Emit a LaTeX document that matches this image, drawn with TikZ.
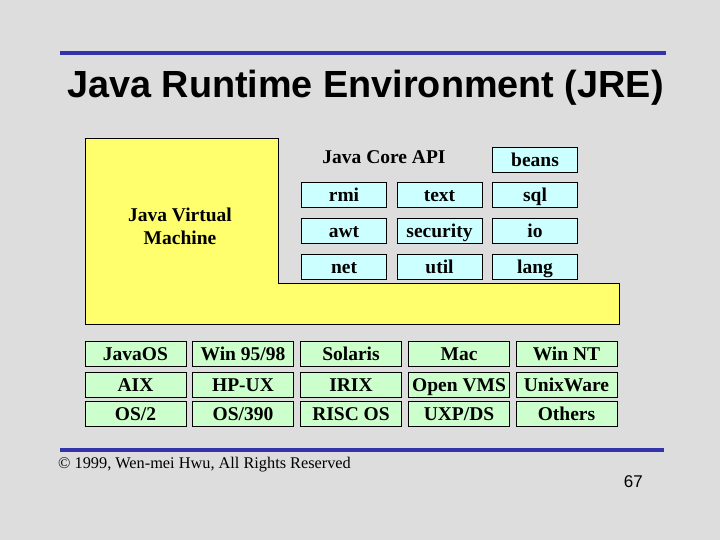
\documentclass[tikz,border=0pt]{standalone}
\usepackage{fontspec}
\setmainfont{Liberation Serif}
\newfontfamily\arialfont{Liberation Sans}
\usepackage{xcolor}
\usepackage{tikz}
\definecolor{slidegray}{HTML}{DDDDDD}
\definecolor{rulebl}{HTML}{3333AA}
\definecolor{jvmyel}{HTML}{FFFF6E}
\definecolor{apicyan}{HTML}{CCFFFF}
\definecolor{osgreen}{HTML}{CCFFCC}

\begin{document}
\begin{tikzpicture}[x=1pt, y=-1pt,
    lbl/.style={font=\bfseries\fontsize{19.5}{23}\selectfont},
    apibox/.style={lbl, draw, line width=0.9pt, fill=apicyan, minimum width=85pt, minimum height=25pt, inner sep=0pt, text height=15pt, text depth=2pt},
    osbox/.style={lbl, draw, line width=0.9pt, fill=osgreen, minimum width=101pt, minimum height=25pt, inner sep=0pt, text height=15pt, text depth=2pt}]
            \useasboundingbox[fill=slidegray] (0,0) rectangle (720,540);
            % title and rules
            \draw[line width=4pt, rulebl] (60,53) -- (666,53);
            \node[anchor=base west, inner sep=0pt, font=\arialfont\bfseries\fontsize{37.8}{38}\selectfont] (title) at (67,98) {Java Runtime Environment (JRE)};
            \draw[line width=4pt, rulebl] (60,450) -- (664,450);
            % virtual machine
            \draw[line width=0.9pt, fill=jvmyel] (85,138) -- (278,138) -- (278,283) -- (619,283) -- (619,324) -- (85,324) -- cycle;
            \node[lbl, align=center] (jvm) at (180,226) {Java Virtual\\Machine};
            % core API
            \node[lbl] (coreapi) at (384,157) {Java Core API};
            \node[apibox] (beans) at (535,160) {beans};
            \node[apibox] (rmi) at (344,195) {rmi};
            \node[apibox] (text) at (439.5,195) {text};
            \node[apibox] (sql) at (535,195) {sql};
            \node[apibox] (awt) at (344,231) {awt};
            \node[apibox] (security) at (439.5,231) {security};
            \node[apibox] (io) at (535,231) {io};
            \node[apibox] (net) at (344,267) {net};
            \node[apibox] (util) at (439.5,267) {util};
            \node[apibox] (lang) at (535,267) {lang};
            % platforms
            \node[osbox] (javaos) at (135.5,354) {JavaOS};
            \node[osbox] (win9x) at (243,354) {Win 95/98};
            \node[osbox] (solaris) at (351,354) {Solaris};
            \node[osbox] (mac) at (459,354) {Mac};
            \node[osbox] (winnt) at (566.5,354) {Win NT};
            \node[osbox] (aix) at (135.5,384.5) {AIX};
            \node[osbox] (hpux) at (243,384.5) {HP-UX};
            \node[osbox] (irix) at (351,384.5) {IRIX};
            \node[osbox] (openvms) at (459,384.5) {Open VMS};
            \node[osbox] (unixware) at (566.5,384.5) {UnixWare};
            \node[osbox] (os2) at (135.5,414) {OS/2};
            \node[osbox] (os390) at (243,414) {OS/390};
            \node[osbox] (riscos) at (351,414) {RISC OS};
            \node[osbox] (uxpds) at (459,414) {UXP/DS};
            \node[osbox] (others) at (566.5,414) {Others};
            % footer
            \node[anchor=base west, inner sep=0pt, font=\fontsize{16.3}{16}\selectfont] (copy) at (58,468) {\textcopyright{} 1999, Wen-mei Hwu, All Rights Reserved};
            \node[anchor=base east, inner sep=0pt, font=\arialfont\fontsize{17}{17}\selectfont] (pagenum) at (643,487) {67};
        \end{tikzpicture}
\end{document}
